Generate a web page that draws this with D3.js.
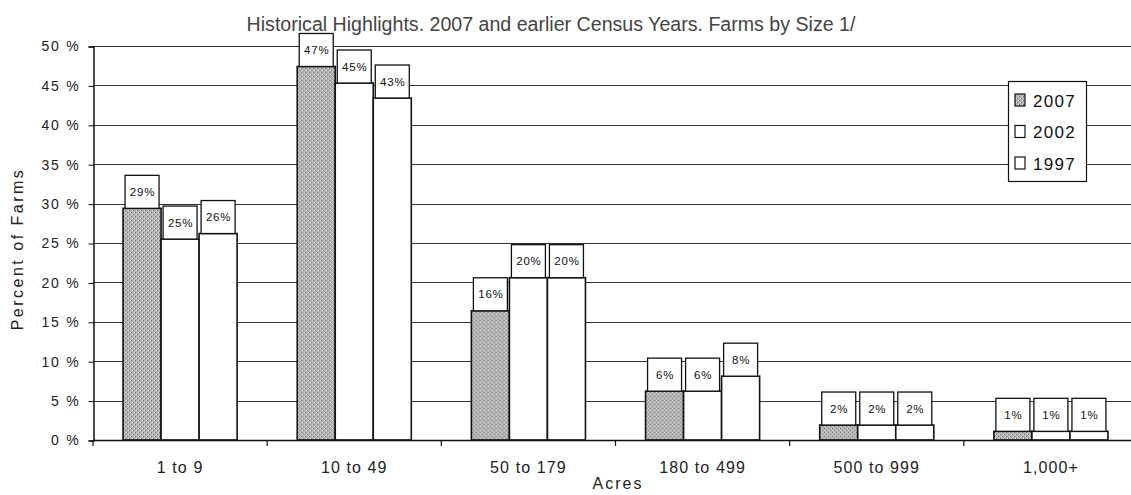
<!DOCTYPE html>
<html>
<head>
<meta charset="utf-8">
<script src="https://cdn.jsdelivr.net/npm/d3@7"></script>
<style>
  html, body { margin: 0; padding: 0; background: #fff; }
  svg { display: block; font-family: Arial, "Liberation Sans", sans-serif; }
</style>
</head>
<body>
<svg id="chart" width="1131" height="495"></svg>
<script>
const categories = ["1 to 9", "10 to 49", "50 to 179", "180 to 499", "500 to 999", "1,000+"];
const seriesNames = ["2007", "2002", "1997"];
const values2007 = [29.4, 47.4, 16.4, 6.2, 1.9, 1.1];
const values2002 = [25.5, 45.3, 20.6, 6.2, 1.9, 1.1];
const values1997 = [26.2, 43.4, 20.6, 8.1, 1.9, 1.1];
const labels2007 = ["29%", "47%", "16%", "6%", "2%", "1%"];
const labels2002 = ["25%", "45%", "20%", "6%", "2%", "1%"];
const labels1997 = ["26%", "43%", "20%", "8%", "2%", "1%"];
const yTicks = [0, 5, 10, 15, 20, 25, 30, 35, 40, 45, 50];
const titleText = "Historical Highlights. 2007 and earlier Census Years. Farms by Size 1/";
const yTitle = "Percent of Farms";
const xTitle = "Acres";

const seriesValues = [values2007, values2002, values1997];
const seriesLabels = [labels2007, labels2002, labels1997];
const fills = ["#ababab", "#ffffff", "#ffffff"];
const FONT = "Arial, 'Liberation Sans', sans-serif";

const svg = d3.select("#chart");

// stipple pattern for 2007
const defs = svg.append("defs");
const pat = defs.append("pattern").attr("id", "stip").attr("patternUnits", "userSpaceOnUse")
  .attr("width", 4).attr("height", 4);
pat.append("rect").attr("width", 4).attr("height", 4).attr("fill", "#b4b4b4");
pat.append("rect").attr("x", 0).attr("y", 0).attr("width", 1).attr("height", 1).attr("fill", "#666");
pat.append("rect").attr("x", 2).attr("y", 2).attr("width", 1).attr("height", 1).attr("fill", "#777");
pat.append("rect").attr("x", 3).attr("y", 0).attr("width", 1).attr("height", 1).attr("fill", "#e4e4e4");
pat.append("rect").attr("x", 1).attr("y", 2).attr("width", 1).attr("height", 1).attr("fill", "#e8e8e8");

const mLeft = 93, mRight = 1138, mTop = 46, mBottom = 440;

const x0 = d3.scaleBand().domain(categories).range([mLeft, mRight])
  .paddingInner(0.345).paddingOuter(0.1725);
const x1 = d3.scaleBand().domain(seriesNames).range([0, x0.bandwidth()]);
const y = d3.scaleLinear().domain([0, 50]).range([mBottom, mTop]);

// gridlines
svg.append("g").selectAll("line").data(yTicks.filter(d => d > 0)).join("line")
  .attr("x1", mLeft).attr("x2", 1131)
  .attr("y1", d => Math.round(y(d)) + 0.5).attr("y2", d => Math.round(y(d)) + 0.5)
  .attr("stroke", "#333").attr("stroke-width", 1);

// y axis
const yAxis = d3.axisLeft(y).tickValues(yTicks).tickSize(5).tickPadding(8)
  .tickFormat(d => d + " %");
const gy = svg.append("g").attr("transform", `translate(${mLeft + 0.5},0.5)`).call(yAxis);
gy.select(".domain").attr("stroke", "#111").attr("stroke-width", 1.5);
gy.selectAll(".tick line").attr("stroke", "#111");
gy.selectAll(".tick text").attr("font-size", 14).attr("fill", "#222")
  .attr("letter-spacing", 1.8).attr("font-family", FONT);

// bars
const groups = svg.append("g").selectAll("g").data(categories).join("g")
  .attr("transform", d => `translate(${x0(d)},0)`);

seriesNames.forEach((s, si) => {
  groups.append("rect")
    .attr("x", x1(s))
    .attr("y", (d, i) => y(seriesValues[si][i]))
    .attr("width", x1.bandwidth())
    .attr("height", (d, i) => y(0) - y(seriesValues[si][i]))
    .attr("fill", si === 0 ? "url(#stip)" : fills[si])
    .attr("stroke", "#111").attr("stroke-width", 1.6);
});

// x axis
const xAxis = d3.axisBottom(x0).tickSize(0).tickPadding(22);
const gx = svg.append("g").attr("transform", `translate(0,${mBottom})`).call(xAxis);
gx.select(".domain").attr("stroke", "#111").attr("stroke-width", 1.5);
gx.selectAll(".tick text").attr("font-size", 16).attr("fill", "#222")
  .attr("letter-spacing", 1.1).attr("font-family", FONT);
// category separator ticks
const seps = categories.map(c => x0(c) - x0.step() * x0.paddingInner() / 2);
svg.append("g").selectAll("line").data(seps).join("line")
  .attr("x1", d => d).attr("x2", d => d).attr("y1", mBottom).attr("y2", mBottom + 6)
  .attr("stroke", "#111").attr("stroke-width", 1.2);

// data label boxes
seriesNames.forEach((s, si) => {
  const bw = 34, bh = 33;
  const lg = groups.append("g")
    .attr("transform", (d, i) => `translate(${x1(s) + x1.bandwidth() / 2},${y(seriesValues[si][i])})`);
  lg.append("rect").attr("x", -bw / 2).attr("y", -bh).attr("width", bw).attr("height", bh)
    .attr("fill", "#fff").attr("stroke", "#111").attr("stroke-width", 1.3);
  lg.append("text").attr("x", 0.5).attr("y", -bh / 2 + 4).attr("text-anchor", "middle")
    .attr("font-size", 11.5).attr("fill", "#111").attr("letter-spacing", 0.8)
    .text((d, i) => seriesLabels[si][i]);
});

// title
svg.append("text").attr("x", 551).attr("y", 31).attr("text-anchor", "middle")
  .attr("font-size", 19.6).attr("fill", "#444").text(titleText);

// y title
svg.append("text").attr("transform", "translate(23,249) rotate(-90)")
  .attr("text-anchor", "middle").attr("font-size", 16).attr("fill", "#222")
  .attr("letter-spacing", 2.5).text(yTitle);

// x title
svg.append("text").attr("x", 618).attr("y", 489).attr("text-anchor", "middle")
  .attr("font-size", 16).attr("fill", "#222").attr("letter-spacing", 2).text(xTitle);

// legend
const lgx = 1008, lgy = 81;
svg.append("rect").attr("x", lgx + 0.5).attr("y", lgy + 0.5).attr("width", 78).attr("height", 100)
  .attr("fill", "#fff").attr("stroke", "#111").attr("stroke-width", 1.2);
const li = svg.append("g").selectAll("g").data(seriesNames).join("g")
  .attr("transform", (d, i) => `translate(${lgx + 7},${lgy + 19 + i * 31.5})`);
li.append("rect").attr("x", 0).attr("y", -6).attr("width", 10).attr("height", 12)
  .attr("fill", (d, i) => i === 0 ? "url(#stip)" : "#fff").attr("stroke", "#111").attr("stroke-width", 1.2);
li.append("text").attr("x", 18).attr("y", 6.5).attr("font-size", 17).attr("fill", "#111")
  .attr("letter-spacing", 1.3).text(d => d);
</script>
</body>
</html>
